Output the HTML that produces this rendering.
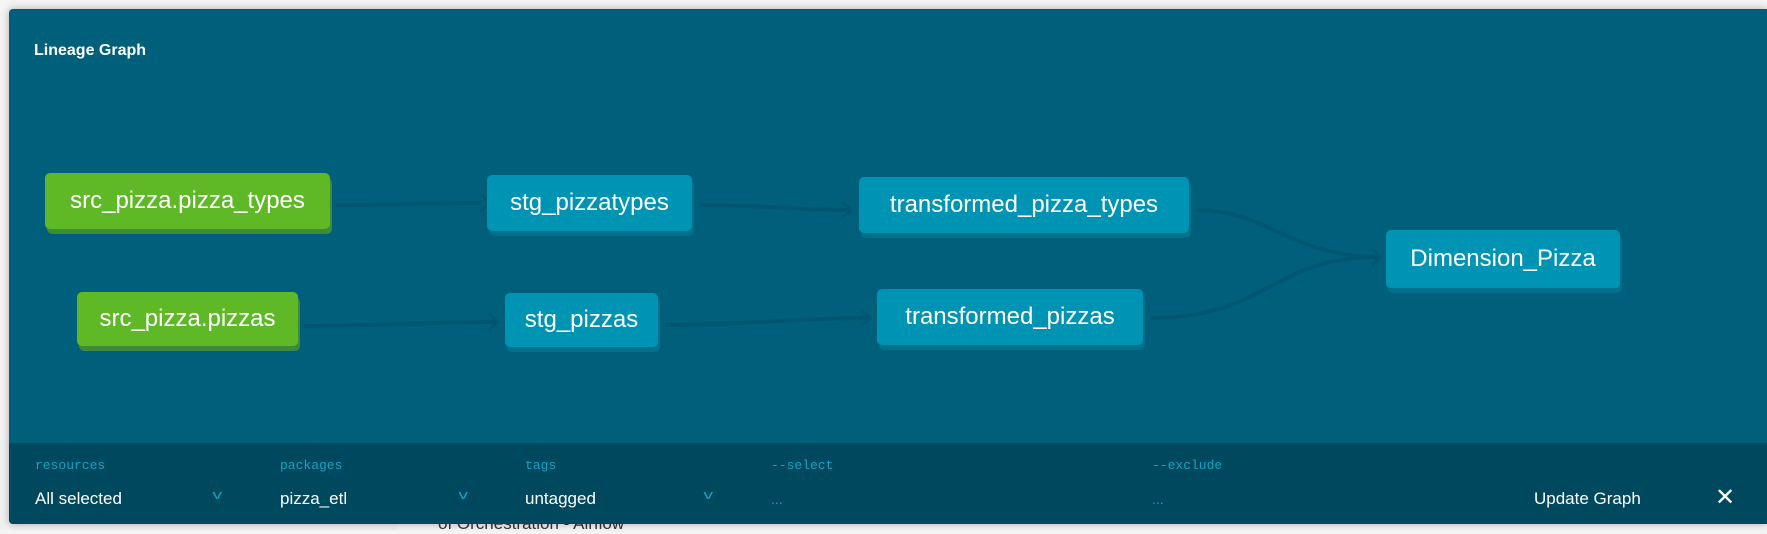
<!DOCTYPE html>
<html><head><meta charset="utf-8"><style>
body{margin:0;width:1767px;height:530px;background:#f4f4f4;position:relative;overflow:hidden;font-family:"Liberation Sans",sans-serif}
.under{position:absolute;left:0;top:440px;width:397px;height:90px;background:#f0f0f0}
.foot{position:absolute;left:438px;top:514px;font-size:17px;color:#333}
.panel{position:absolute;left:9px;top:9px;width:1758px;height:515px;background:#00607c;border-radius:4px 0 0 4px;box-shadow:0 0 8px rgba(0,0,0,.3);overflow:hidden}
.title{position:absolute;left:25px;top:33px;color:#fff;font-weight:bold;font-size:16px}
.n{position:absolute;background:#0094b4;color:#fff;font-size:24px;display:flex;align-items:center;justify-content:center;border-radius:5px;box-shadow:2px 5px 0 #00708c;white-space:nowrap}
.g{background:#5fb825;box-shadow:2px 5px 0 #3f8a3a}
.bar{position:absolute;left:0;top:434px;width:1758px;height:81px;background:#00485e}
.l{position:absolute;top:15px;font-family:"Liberation Mono",monospace;font-size:13px;color:#14a3c4}
.v{position:absolute;top:46px;font-size:17px;color:#fff}
.c{position:absolute;top:44px;color:#14a3c4;font-size:13px;transform:scaleX(1.5)}
.d{position:absolute;top:48px;color:#14a3c4;font-size:14px}
</style></head><body>
<div class="under"></div><div class="foot">of Orchestration - Airflow</div>
<div class="panel">
<div class="title">Lineage Graph</div>
<svg width="1758" height="434" style="position:absolute;left:0;top:0" fill="none" stroke="#005670" stroke-width="4">
<path d="M327 196 C380 196 420 194 472 194"/><path d="M472 186 L481 194 L472 202" stroke-width="3"/>
<path d="M690 196 C750 196 790 201 842 201"/><path d="M833 193 L842 201 L833 209" stroke-width="3"/>
<path d="M1188 201 C1260 201 1280 248 1372 248"/><path d="M1363 240 L1372 248 L1363 256" stroke-width="3"/>
<path d="M295 317 C360 317 420 313 489 313"/><path d="M480 305 L489 313 L480 321" stroke-width="3"/>
<path d="M656 316 C730 316 790 309 861 309"/><path d="M852 301 L861 309 L852 317" stroke-width="3"/>
<path d="M1141 309 C1260 309 1260 248 1372 248"/>
</svg>
<div class="n g" style="left:36px;top:164px;width:285px;height:56px">src_pizza.pizza_types</div>
<div class="n" style="left:478px;top:166px;width:205px;height:56px">stg_pizzatypes</div>
<div class="n" style="left:850px;top:168px;width:330px;height:56px">transformed_pizza_types</div>
<div class="n" style="left:1377px;top:221px;width:234px;height:58px">Dimension_Pizza</div>
<div class="n g" style="left:68px;top:283px;width:221px;height:54px">src_pizza.pizzas</div>
<div class="n" style="left:496px;top:284px;width:153px;height:54px">stg_pizzas</div>
<div class="n" style="left:868px;top:280px;width:266px;height:56px">transformed_pizzas</div>
<div class="bar">
<div class="l" style="left:26px">resources</div><div class="l" style="left:271px">packages</div><div class="l" style="left:516px">tags</div><div class="l" style="left:762px">--select</div><div class="l" style="left:1143px">--exclude</div>
<div class="v" style="left:26px">All selected</div><div class="v" style="left:271px">pizza_etl</div><div class="v" style="left:516px">untagged</div>
<div class="c" style="left:205px">v</div><div class="c" style="left:451px">v</div><div class="c" style="left:696px">v</div>
<div class="d" style="left:762px">...</div><div class="d" style="left:1143px">...</div>
<div class="v" style="left:1525px">Update Graph</div>
<div class="v" style="left:1706px;font-size:24px;top:40px">✕</div>
</div>
</div>
</body></html>
